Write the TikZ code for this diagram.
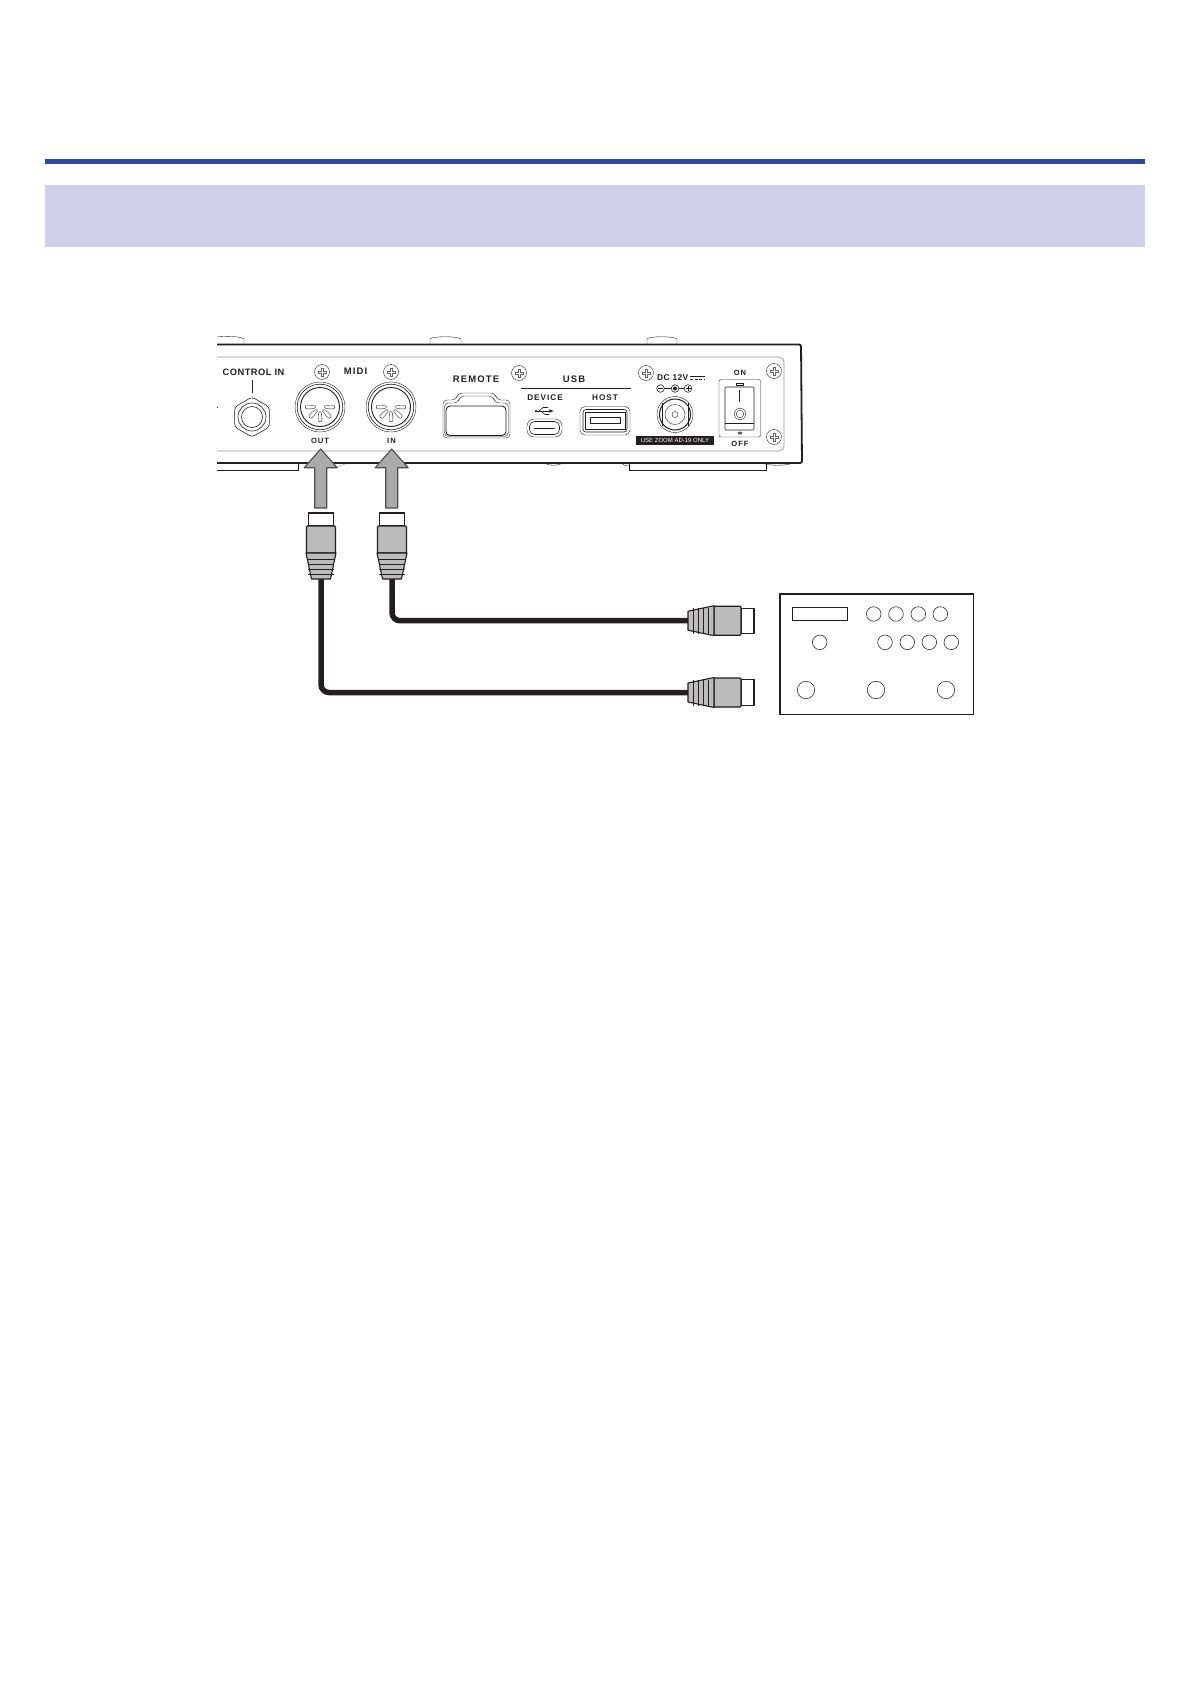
\documentclass[tikz,border=0pt]{standalone}
\usepackage{fontspec}
\setmainfont{Liberation Sans}
\newfontfamily\panelfont[LetterSpace=5]{Liberation Sans}
\newfontfamily\panelwide[LetterSpace=12]{Liberation Sans}
\usetikzlibrary{calc}
\usetikzlibrary{positioning}
\definecolor{ink}{RGB}{35, 31, 32}
\definecolor{panelgray}{RGB}{150, 150, 150}
\definecolor{plugfill}{RGB}{188, 188, 188}
\definecolor{arrowfill}{RGB}{170, 170, 170}
\definecolor{headblue}{RGB}{47, 72, 155}
\definecolor{bandlilac}{RGB}{208, 208, 234}
\tikzset{
    paneltext/.style={text=ink, inner sep=0pt, font=\panelfont\bfseries\fontsize{9.3}{10}\selectfont},
    bigtext/.style={text=ink, inner sep=0pt, font=\panelwide\bfseries\fontsize{9.5}{10}\selectfont},
    tinytext/.style={text=ink, inner sep=0pt, font=\panelwide\bfseries\fontsize{7.6}{8}\selectfont},
    usbtext/.style={text=ink, inner sep=0pt, font=\panelwide\bfseries\fontsize{8.2}{9}\selectfont},
    thinline/.style={draw=ink, line width=0.6pt},
    hairline/.style={draw=ink, line width=0.4pt},
    body/.style={draw=ink, line width=1.8pt},
    plugline/.style={draw=ink, line width=1.1pt},
    cable/.style={draw=ink, line width=5.5pt, rounded corners=8pt},
    bigarrow/.style={draw=ink!80, fill=arrowfill, line width=1.1pt, line join=round},
    knob/.style={draw=ink, line width=0.55pt, fill=white},
    screw/.pic={
        \draw[hairline] (0,0) circle (7.5pt);
        \draw[draw=ink!70, line width=0.3pt] (-1.2pt,-1.2pt) -- (-1.2pt,-3.8pt) -- (1.2pt,-3.8pt) -- (1.2pt,-1.2pt) -- (3.8pt,-1.2pt) -- (3.8pt,1.2pt) -- (1.2pt,1.2pt) -- (1.2pt,3.8pt) -- (-1.2pt,3.8pt) -- (-1.2pt,1.2pt) -- (-3.8pt,1.2pt) -- (-3.8pt,-1.2pt) -- cycle;
    },
    midisocket/.pic={
        \draw[hairline] (0,0) circle (25pt);
        \draw[thinline] (0,0) circle (22.8pt);
        \draw[line width=0.9pt, draw=ink] (0,0) circle (19.5pt);
        \foreach \a in {180,225,270,315,360}
            \filldraw[hairline, fill=white, rotate=\a] (4.5pt,-0.9pt) -- (9pt,-1.8pt) -- (14pt,-1.8pt) -- (15pt,0pt) -- (14pt,1.8pt) -- (9pt,1.8pt) -- (4.5pt,0.9pt) -- cycle;
    },
    stompplug/.pic={
        \filldraw[plugline, fill=white] (-12.6pt,0pt) rectangle (12.6pt,13pt);
        \filldraw[plugline, fill=plugfill, rounded corners=1pt] (-14.5pt,-27pt) rectangle (14.5pt,0pt);
        \filldraw[plugline, fill=plugfill, line join=round] (-15pt,-27pt) -- (15pt,-27pt) -- (9.5pt,-53pt) -- (-9.5pt,-53pt) -- cycle;
        \foreach \d in {33,38,43,48}
            \draw[thinline] (-13pt,-\d pt) -- (13pt,-\d pt);
    }
}
\begin{document}
\begin{tikzpicture}[x=1pt, y=-1pt]
    \useasboundingbox (0,0) rectangle (1191,1684);
    % header
    \fill[headblue]  (45,159) rectangle (1145,164);
    \fill[bandlilac] (45,185) rectangle (1145,247);
    % feet behind the case
    \draw[hairline] (217,337) .. controls (225,336) and (240,336) .. (244,339) -- (244,344);
    \draw[hairline] (430,344) -- (430,339) .. controls (432,336) and (458,336) .. (461,339) -- (461,344);
    \draw[hairline] (647,344) -- (647,339) .. controls (649,336) and (674,336) .. (677,339) -- (677,344);
    \draw[hairline] (545,463) .. controls (548,466) and (559,466) .. (562,463);
    \draw[hairline] (622,463) .. controls (624,466) and (627,466) .. (629,466);
    \draw[hairline] (763,463) .. controls (766,466) and (789,466) .. (792,463);
    \draw[thinline] (217,470) -- (298,470) -- (298,463);
    \draw[thinline] (629,463) -- (629,470) -- (766,470) -- (766,463);
    \draw[panelgray, line width=0.4pt] (337,467) -- (345,464);
    % case
    \draw[body, rounded corners=2pt] (217,344.5) -- (801,344.5) -- (802,463) -- (217,463);
    \draw[panelgray, line width=0.8pt, rounded corners=5pt] (217,357) -- (784,357) -- (784,451) -- (217,451);
    \draw[thinline] (216.5,407) -- (217.8,407);
    % screws
    \foreach \x/\y in {322/372, 391/372, 519/373, 646/373, 774/371, 774/437}
        \pic at (\x,\y) {screw};
    % control in
    \node[paneltext] (controlin) at (253.5,372) {CONTROL IN};
    \coordinate (jack) at (252,417);
    \draw[thinline] (252,380) -- (252,393);
    \begin{scope}[shift={(jack)}]
        \draw[thinline, rounded corners=3pt] (90:20pt) -- (150:20pt) -- (210:20pt) -- (270:20pt) -- (330:20pt) -- (30:20pt) -- cycle;
    \end{scope}
    \draw[thinline] (jack) circle (14pt);
    \draw[thinline] (jack) circle (10.5pt);
    % midi
    \node[bigtext] (midilabel) at (355.5,371) {MIDI};
    \pic at (320,407) {midisocket};
    \pic at (391,407) {midisocket};
    \node[tinytext] (outlabel) at (320,441) {OUT};
    \node[tinytext] (inlabel) at (391.5,441) {IN};
    % remote
    \node[bigtext] (remotelabel) at (476,379) {REMOTE};
    \draw[hairline, rounded corners=4pt] (443,400) -- (456,400) -- (458,393) -- (495,393) -- (497,400) -- (510,400) -- (510,438) -- (443,438) -- cycle;
    \draw[hairline, rounded corners=4pt] (444.5,403) -- (458,403) -- (460,396) -- (493,396) -- (495,403) -- (508.5,403) -- (508.5,436.5) -- (444.5,436.5) -- cycle;
    \draw[line width=0.9pt, draw=ink, rounded corners=4pt] (446,406) rectangle (506,435.5);
    % usb
    \node[bigtext] (usblabel) at (574,379) {USB};
    \draw[thinline] (521,388) -- (631,388);
    \node[usbtext] (devicelabel) at (545,398) {DEVICE};
    \node[usbtext] (hostlabel) at (605,398) {HOST};
    \draw[thinline, -latex] (535,411) -- (554,411);
    \draw[thinline] (539,411) -- (543,407.5) -- (548,407.5);
    \draw[thinline] (541,411) -- (545,414.5) -- (549,414.5);
    \fill[ink] (536,411) circle (1.2pt);
    \draw[hairline, rounded corners=7pt] (527,419) rectangle (562,437);
    \draw[thinline, rounded corners=5pt] (529.5,421.5) rectangle (559.5,434.5);
    \draw[line width=1pt, draw=ink] (534,428) -- (555,428);
    \draw[hairline, rounded corners=5pt] (580,406.5) rectangle (630,435);
    \draw[thinline, rounded corners=3pt] (583,409.5) rectangle (627,432);
    \draw[thinline] (585,412) rectangle (625,429.5);
    \draw[thinline] (590,417) rectangle (620,423);
    % dc input
    \node[paneltext, anchor=west, font=\panelfont\bfseries\fontsize{8.4}{9}\selectfont] (dclabel) at (657,378) {DC 12V};
    \draw[thinline] (690,376) -- (705,376);
    \draw[thinline, dash pattern=on 3pt off 1.5pt] (690,379) -- (705,379);
    \foreach \x in {660.5,675,688}
        \draw[thinline] (\x,388.5) circle (3.8pt);
    \draw[thinline] (658,388.5) -- (663,388.5);
    \draw[thinline] (685.5,388.5) -- (690.5,388.5) (688,386) -- (688,391);
    \fill[ink] (675,388.5) circle (2pt);
    \draw[thinline] (664.3,388.5) -- (671,388.5) (679,388.5) -- (684.2,388.5);
    \draw[hairline] (675,414.5) circle (18pt);
    \draw[line width=1pt, draw=ink] (675,414.5) circle (15.5pt);
    \draw[hairline] (675,414.5) circle (10pt);
    \draw[hairline] (675,414.5) circle (3pt);
    \draw[thinline] (662,403) -- (662,426) (688,403) -- (688,426);
    \node[fill=ink, text=white, inner sep=0pt, minimum width=78pt, minimum height=9pt, font=\fontsize{6}{7}\selectfont] (adapter) at (675,440.5) {USE ZOOM AD-19 ONLY};
    % power switch
    \node[tinytext] (onlabel) at (740,373) {ON};
    \node[tinytext] (offlabel) at (740,444) {OFF};
    \draw[hairline, rounded corners=2pt] (719,379.5) rectangle (760.5,437);
    \draw[thinline, rounded corners=1pt] (725,387) rectangle (754,430);
    \draw[thinline] (725,423) -- (754,423);
    \draw[hairline] (736.5,383) rectangle (743.5,385);
    \draw[line width=1.1pt, draw=ink] (739.5,390) -- (739.5,402);
    \draw[hairline] (740,414) circle (5.7pt);
    \draw[hairline] (740,414) circle (3.8pt);
    \fill[ink!70] (740,433) ellipse (2.5pt and 1.5pt);
    % cables
    \coordinate (outplug) at (321,579);
    \coordinate (inplug) at (392,579);
    \coordinate (outfar) at (690,692.5);
    \coordinate (infar) at (690,620.7);
    \draw[cable] (outplug) |- (outfar);
    \draw[cable] (inplug) |- (infar);
    % arrows
    \foreach \x in {320.7,391.7}
        \draw[bigarrow] (\x,449) -- (\x+16.5,467.7) -- (\x+6,467.7) -- (\x+6,508) -- (\x-6,508) -- (\x-6,467.7) -- (\x-16.5,467.7) -- cycle;
    % plugs
    \pic at (321,526) {stompplug};
    \pic at (392,526) {stompplug};
    \pic[rotate=-90] at (741,620.7) {stompplug};
    \pic[rotate=-90] at (741,692.5) {stompplug};
    % effect unit
    \draw[line width=1.2pt, draw=ink] (780,594) rectangle (973.3,714.7);
    \draw[line width=0.8pt, draw=ink] (792.3,607.3) rectangle (847.7,620.3);
    \foreach \x/\y in {873.7/614, 896/614, 918.3/614, 940.3/614, 819.7/642.3, 885/642.3, 907.3/642.3, 929.3/642.3, 951.3/642.3}
        \draw[knob] (\x,\y) circle (7.3pt);
    \foreach \x in {806,876,946}
        \draw[knob] (\x,690) circle (8.7pt);
\end{tikzpicture}
\end{document}
